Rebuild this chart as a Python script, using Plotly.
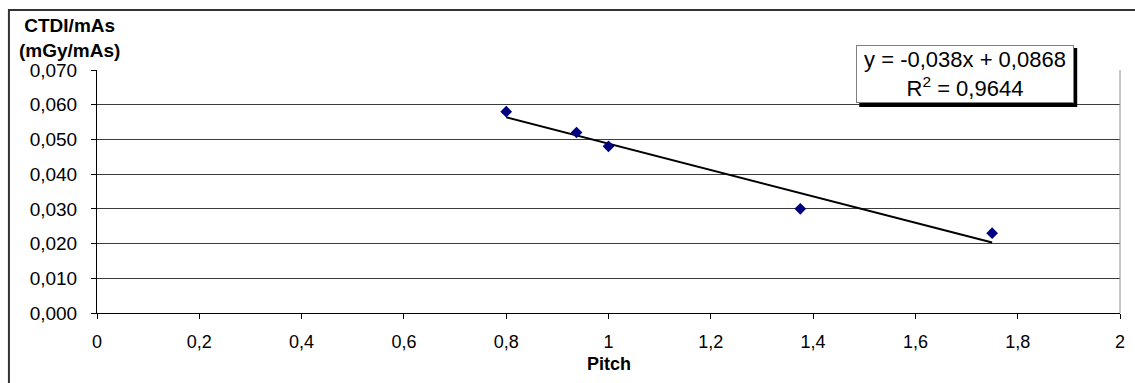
import plotly.graph_objects as go

# Data
pitch = [0.8, 0.9375, 1.0, 1.375, 1.75]
ctdi_per_mas = [0.058, 0.052, 0.048, 0.030, 0.023]
trend_slope = [-0.038]
trend_intercept = [0.0868]
trend_x = [0.8, 1.75]
x_ticks = [0, 0.2, 0.4, 0.6, 0.8, 1.0, 1.2, 1.4, 1.6, 1.8, 2.0]
y_ticks = [0, 0.01, 0.02, 0.03, 0.04, 0.05, 0.06, 0.07]
equation_text = "y = -0,038x + 0,0868<br>R<sup>2</sup> = 0,9644"

W, H = 1135, 383
L, R, T, B = 97, 10, 70, 70
pw, ph = W - L - R, H - T - B

def px(xpix):
    return (xpix - L) / pw

def py(ypix):
    return (H - B - ypix) / ph

trend_y = [trend_slope[0] * x + trend_intercept[0] for x in trend_x]

FONT = "Liberation Sans, Arial, sans-serif"

fig = go.Figure()
fig.add_trace(go.Scatter(
    x=trend_x, y=trend_y, mode="lines",
    line=dict(color="black", width=2), showlegend=False, hoverinfo="skip"))
fig.add_trace(go.Scatter(
    x=pitch, y=ctdi_per_mas, mode="markers",
    marker=dict(symbol="diamond", size=9, color="#000080"),
    showlegend=False))

fig.update_layout(
    width=W, height=H, autosize=False,
    margin=dict(l=L, r=R, t=T, b=B, pad=0),
    paper_bgcolor="white", plot_bgcolor="white",
    separators=",.",
    font=dict(family=FONT, size=18, color="black"),
    xaxis=dict(range=[0, 2], tickvals=x_ticks,
               showgrid=False, zeroline=False,
               showline=True, linecolor="black", linewidth=1,
               ticks="outside", ticklen=5, tickcolor="black",
               ticklabelstandoff=7, tickfont=dict(size=18)),
    yaxis=dict(range=[0, 0.07], tickvals=y_ticks, tickformat=".3f",
               showgrid=True, gridcolor="#3c3c3c", gridwidth=1,
               zeroline=False,
               showline=True, linecolor="black", linewidth=1,
               ticks="outside", ticklen=5, tickcolor="black",
               ticklabelstandoff=10, tickfont=dict(size=19)),
    shapes=[
        dict(type="rect", xref="paper", yref="paper",
             x0=px(8.5), x1=px(1160), y0=py(10), y1=py(420),
             line=dict(color="#333333", width=2), fillcolor="rgba(0,0,0,0)", layer="below"),
        dict(type="line", xref="paper", yref="paper",
             x0=1, x1=1, y0=0, y1=1, line=dict(color="#8c8c8c", width=1)),
        dict(type="rect", xref="paper", yref="paper",
             x0=px(863), x1=px(1082), y0=py(107), y1=py(48),
             line=dict(width=0), fillcolor="black", layer="above"),
    ],
    annotations=[
        dict(text="<b>Pitch</b>", xref="paper", yref="paper", x=0.5, y=py(364),
             xanchor="center", yanchor="middle", showarrow=False,
             font=dict(size=18, family=FONT, color="black")),
        dict(text="<b>CTDI/mAs</b><br><b>(mGy/mAs)</b>", xref="paper", yref="paper",
             x=px(69), y=py(38), xanchor="center", yanchor="middle", showarrow=False,
             align="center", font=dict(size=19, family=FONT, color="black")),
        dict(text=equation_text, xref="paper", yref="paper",
             x=px(969), y=py(74), xanchor="center", yanchor="middle", showarrow=False,
             align="center", width=212, height=52, borderpad=2, borderwidth=1,
             bordercolor="#7f7f7f", bgcolor="white",
             font=dict(size=22, family=FONT, color="black")),
    ],
)

fig.write_html("out.html", config={"displayModeBar": False},
               post_script="document.body.style.margin='0';document.body.style.padding='0';")
